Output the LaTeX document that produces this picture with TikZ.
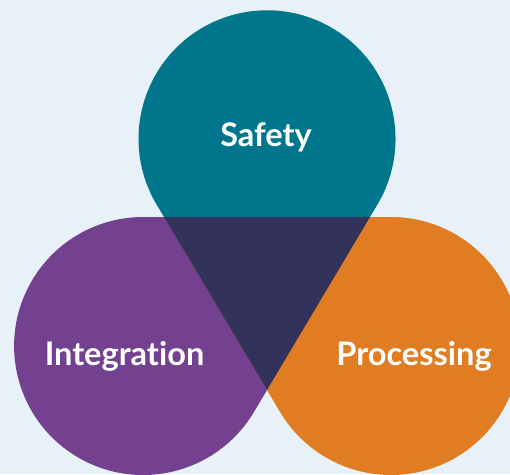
\documentclass[tikz,border=0pt]{standalone}
\usepackage{fontspec}
\setmainfont{Lato}[Ligatures=NoCommon]
\usetikzlibrary{calc}
\definecolor{bgc}{HTML}{E8F1F8}
\definecolor{tealc}{HTML}{00768C}
\definecolor{purplec}{HTML}{73418F}
\definecolor{orangec}{HTML}{E07D22}
\definecolor{navyc}{HTML}{33325A}
\begin{document}
\begin{tikzpicture}[x=1pt,y=-1pt,
  lbl/.style={text=white,font=\fontsize{32.5}{36}\selectfont\bfseries,anchor=base,inner sep=0pt}]
\useasboundingbox (0,0) rectangle (510,474);
\clip (0,0) rectangle (510,474);
\fill[bgc] (0,0) rectangle (510,474);
% triangle vertices
\coordinate (A) at (164,217);
\coordinate (C) at (370,217);
\coordinate (B) at (267,390);
% circle centres
\coordinate (O) at (267,138.8);
\coordinate (P) at (143.1,346);
\coordinate (Q) at (390.9,346);
% teal teardrop (tip B)
\fill[tealc] (B) -- ($(O)+(30.77:128.5)$) arc[start angle=30.77,end angle=-210.77,radius=128.5] -- cycle;
% purple teardrop (tip C)
\fill[purplec] (C) -- ($(P)+(30.77:129)$) arc[start angle=30.77,end angle=270,radius=129] -- cycle;
% orange teardrop (tip A)
\fill[orangec] (A) -- ($(Q)+(-90:129)$) arc[start angle=-90,end angle=149.23,radius=129] -- cycle;
% overlap
\fill[navyc] (A) -- (B) -- (C) -- cycle;
\node[lbl] (safety) at (266,146) {Safety};
\node[lbl] (integration) at (124.5,365) {Integrat\kern0pt ion};
\node[lbl] (processing) at (414,365) {Processing};
\end{tikzpicture}
\end{document}
